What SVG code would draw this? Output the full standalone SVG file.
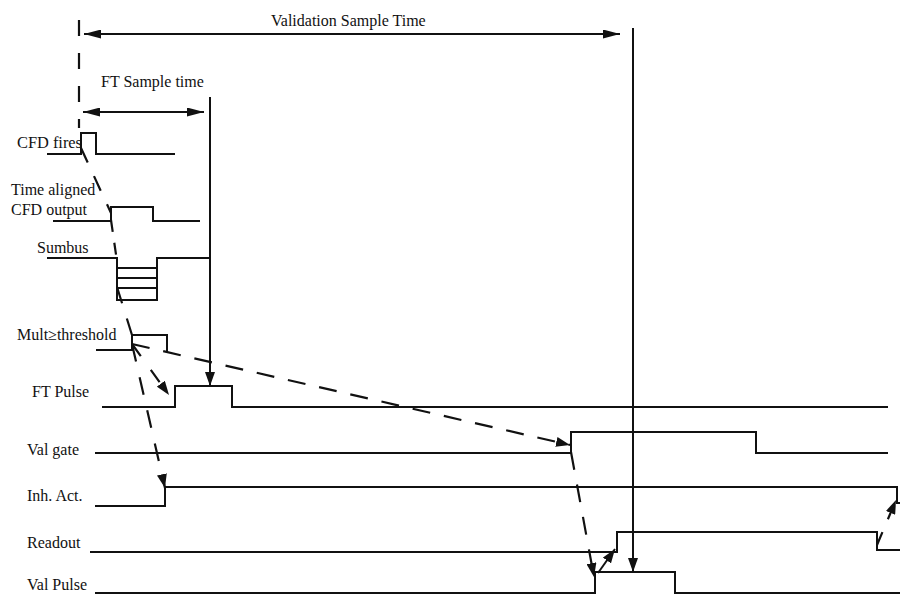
<svg xmlns="http://www.w3.org/2000/svg" width="900" height="595" viewBox="0 0 900 595">
<style>
text{font-family:"Liberation Serif","Times New Roman",serif;font-size:16px;fill:#111}
.sig{fill:none;stroke:#111;stroke-width:2}
.solid{fill:none;stroke:#111;stroke-width:2}
.dash{fill:none;stroke:#111;stroke-width:2.2;stroke-dasharray:18 14}
</style>
<defs>
<marker id="ah" viewBox="0 0 14 10" refX="14" refY="5" markerWidth="14" markerHeight="10" markerUnits="userSpaceOnUse" orient="auto-start-reverse"><path d="M0,0 L14,5 L0,10 z" fill="#111"/></marker>
<marker id="ahl" viewBox="0 0 17 9" refX="17" refY="4.5" markerWidth="17" markerHeight="9" markerUnits="userSpaceOnUse" orient="auto-start-reverse"><path d="M0,0 L17,4.5 L0,9 z" fill="#111"/></marker>
</defs>
<rect width="900" height="595" fill="#fff"/>

<g id="validation-sample-time">
<text x="271" y="26">Validation Sample Time</text>
</g>
<g id="ft-sample-time">
<text x="101" y="87">FT Sample time</text>
</g>
<g id="cfd-fires">
<text x="17" y="148" textLength="65" lengthAdjust="spacingAndGlyphs">CFD fires</text>
<path class="sig" d="M47,154 H81 V133 H96 V154 H175"/>
</g>
<g id="time-aligned-cfd-output">
<text x="11" y="195">Time aligned</text>
<text x="11" y="215">CFD output</text>
<path class="sig" d="M53,221 H111 V207 H153 V221 H200"/>
</g>
<g id="sumbus">
<text x="37" y="253">Sumbus</text>
<path class="sig" d="M47,258 H117 V300 H157 V258 H210 M117,268 H157 M117,278 H157 M117,288 H157"/>
</g>
<g id="mult-threshold">
<text x="17" y="340">Mult≥threshold</text>
<path class="sig" d="M96,350 H132 V335 H167 V352"/>
</g>
<g id="ft-pulse">
<text x="32" y="397">FT Pulse</text>
<path class="sig" d="M102,407 H175 V386 H232 V407 H888"/>
</g>
<g id="val-gate">
<text x="27" y="455">Val gate</text>
<path class="sig" d="M95,453 H571 V432 H756 V453 H888"/>
</g>
<g id="inh-act">
<text x="27" y="501">Inh. Act.</text>
<path class="sig" d="M95,506 H165 V487 H897 V503 H900"/>
</g>
<g id="readout">
<text x="27" y="548">Readout</text>
<path class="sig" d="M90,552 H617 V532 H877 V550 H900"/>
</g>
<g id="val-pulse">
<text x="27" y="590">Val Pulse</text>
<path class="sig" d="M95,593 H595 V572 H675 V593 H900"/>
</g>

<g id="connectors">
<path class="solid" d="M84,34 H620" marker-start="url(#ahl)" marker-end="url(#ahl)"/>
<path class="solid" d="M83,112 H204" marker-start="url(#ahl)" marker-end="url(#ahl)"/>
<path class="solid" d="M210,97 V386" marker-end="url(#ah)"/>
<path class="solid" d="M633,28 V572" marker-end="url(#ah)"/>
<path class="dash" d="M79,20 V128" style="stroke-dasharray:16 17"/>
<path class="dash" d="M81,148 L111,213" style="stroke-dasharray:16 15"/>
<path class="dash" d="M111,220 L116.5,258" style="stroke-dasharray:12 11"/>
<path class="dash" d="M117,287 L132,335" style="stroke-dasharray:17 16"/>
<path class="dash" d="M132,344 L169,395" marker-end="url(#ah)" style="stroke-dasharray:15 17"/>
<path class="dash" d="M132,344 L165,488" marker-end="url(#ah)" style="stroke-dasharray:18 16"/>
<path class="dash" d="M132,344 L570,445" marker-end="url(#ah)"/>
<path class="dash" d="M571,452 L594,577" marker-end="url(#ah)" style="stroke-dasharray:18 15"/>
<path class="solid" d="M598,573 L615,549" marker-end="url(#ah)"/>
<path class="dash" d="M877,545 L896,500" marker-end="url(#ah)" style="stroke-dasharray:14 14"/>
</g>
</svg>
